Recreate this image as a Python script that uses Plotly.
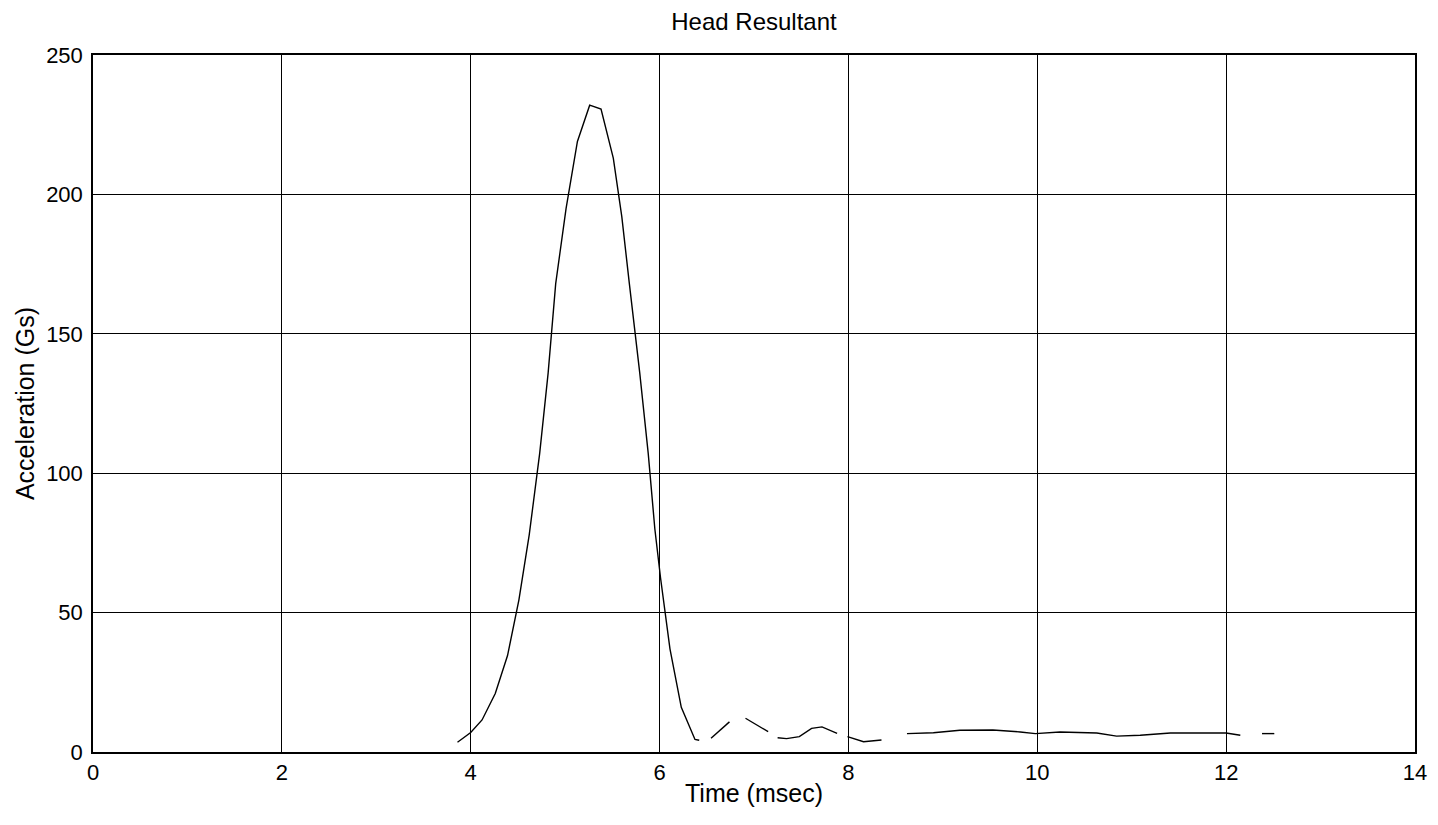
import plotly.graph_objects as go

# time (msec) and head resultant acceleration (Gs); None marks gaps in the trace
time_ms = [3.86, 4.00, 4.12, 4.26, 4.39, 4.51, 4.62, 4.73, 4.82, 4.90, 5.01, 5.13,
           5.26, 5.38, 5.51, 5.60, 5.68, 5.79, 5.88, 5.95, 6.01, 6.11, 6.23, 6.375, 6.42,
           None,
           6.545, 6.74,
           None,
           6.91, 7.15,
           None,
           7.25, 7.345, 7.48, 7.61, 7.72, 7.88,
           None,
           7.99, 8.16, 8.35,
           None,
           8.62, 8.90, 9.18, 9.53, 9.82, 9.98, 10.24, 10.63, 10.84, 11.09, 11.41,
           11.86, 12.00, 12.15,
           None,
           12.38, 12.51]
accel_g = [3.5, 7.0, 11.5, 21.0, 34.6, 54.5, 78.0, 107.0, 136.0, 168.0, 195.0, 219.0,
           232.0, 230.6, 213.0, 192.0, 168.0, 136.0, 107.0, 80.0, 62.5, 37.0, 16.0, 4.5, 4.2,
           None,
           4.9, 10.8,
           None,
           12.1, 7.3,
           None,
           5.1, 4.8, 5.5, 8.5, 9.0, 6.7,
           None,
           5.5, 3.7, 4.3,
           None,
           6.6, 6.9, 7.8, 7.9, 7.2, 6.6, 7.2, 6.8, 5.7, 6.0, 6.8,
           6.9, 6.8, 6.0,
           None,
           6.6, 6.6]

x_ticks = [0, 2, 4, 6, 8, 10, 12, 14]
y_ticks = [0, 50, 100, 150, 200, 250]

font = "Liberation Sans, Arial, sans-serif"

fig = go.Figure()
fig.add_trace(go.Scatter(x=time_ms, y=accel_g, mode="lines",
                         line=dict(color="black", width=1.4),
                         connectgaps=False, showlegend=False))

# page body adds 8px, so the figure is 8px smaller than the window
fig.update_layout(
    width=1430, height=817,
    paper_bgcolor="white", plot_bgcolor="white",
    margin=dict(l=85, r=23, t=47, b=73),
    title=dict(text="Head Resultant", x=0.5, xref="paper", xanchor="center",
               y=1 - 14 / 817, yanchor="middle",
               font=dict(family=font, size=24, color="black")),
    font=dict(family=font, color="black"),
)
fig.update_xaxes(range=[0, 14], tickvals=x_ticks, ticks="", showgrid=True,
                 gridcolor="black", gridwidth=1, zeroline=False,
                 showline=True, linecolor="black", linewidth=1.5, mirror=True,
                 tickfont=dict(size=22), ticklabelstandoff=0,
                 title=dict(text="Time (msec)", font=dict(size=25), standoff=0))
fig.update_yaxes(range=[0, 250], tickvals=y_ticks, ticks="", showgrid=True,
                 gridcolor="black", gridwidth=1, zeroline=False,
                 showline=True, linecolor="black", linewidth=1.5, mirror=True,
                 tickfont=dict(size=22), ticklabelstandoff=4,
                 title=dict(text="Acceleration (Gs)", font=dict(size=25), standoff=4))

fig.write_html("out.html")
